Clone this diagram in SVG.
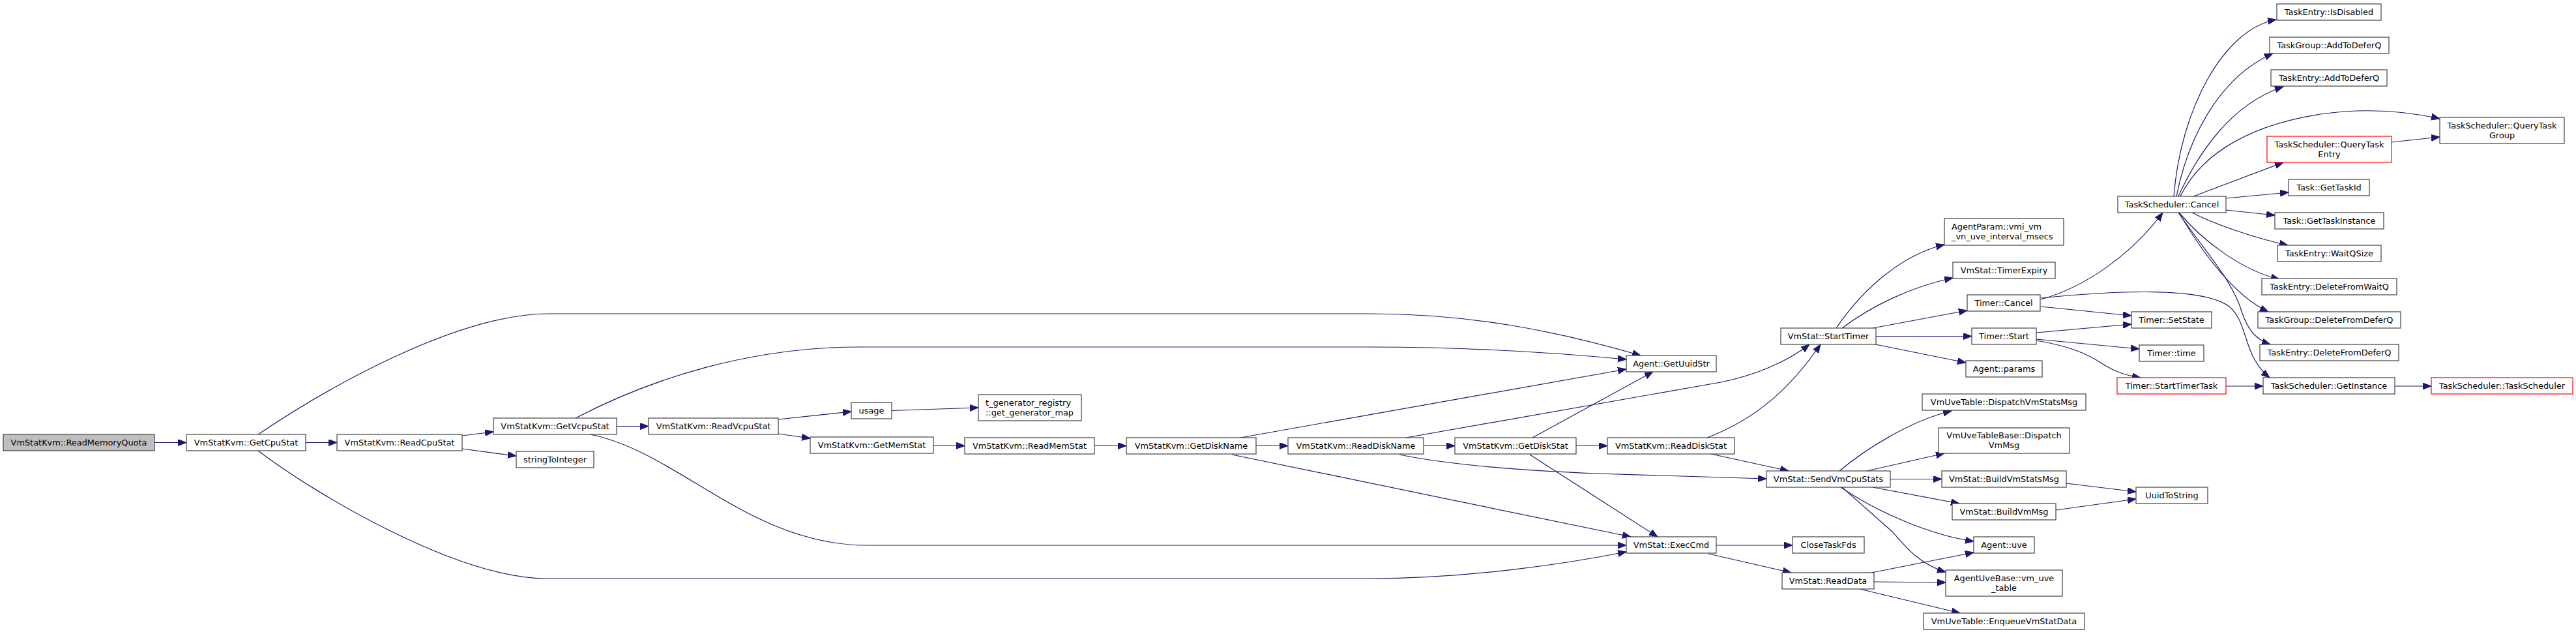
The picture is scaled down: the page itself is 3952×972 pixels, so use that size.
<svg xmlns="http://www.w3.org/2000/svg" width="3952" height="972" viewBox="0 0 3952 972">
<style>
.node rect{fill:#ffffff;stroke:#404040;stroke-width:1.2}
.start rect{fill:#bfbfbf}
.red rect{stroke:#ff0000}
text{font-family:"DejaVu Sans","Liberation Sans",sans-serif;font-size:12.9px;fill:#000000;text-anchor:middle}
text.l{text-anchor:start}
.edges path{fill:none;stroke:#191970;stroke-width:1.2;marker-end:url(#arr)}
</style>
<defs>
<marker id="arr" markerUnits="userSpaceOnUse" markerWidth="14" markerHeight="12" refX="13" refY="5" orient="auto">
<path d="M0,0 L13,5 L0,10 z" fill="#191970" stroke="#191970" stroke-width="1"/>
</marker>
</defs>
<rect x="0" y="0" width="3952" height="972" fill="#ffffff"/>
<g class="edges" id="edges">
<path d="M237,678.5 L286,678.5"/>
<path d="M469,678.5 L517,678.5"/>
<path d="M396,666 C500,596 700,481 842,481 L2100,481 C2250,481 2380,505 2517,545"/>
<path d="M396,691 C480,755 700,887 839,887 L2100,887 C2250,887 2400,865 2495,846"/>
<path d="M709,668 L757,662"/>
<path d="M709,688 L792,699"/>
<path d="M946,653.5 L995,653.5"/>
<path d="M883,641 C1000,580 1150,532 1320,532 L2100,532 C2250,532 2380,540 2495,551"/>
<path d="M905,666 C1040,692 1150,836 1330,836 L2495,836"/>
<path d="M1194,643 L1306,631"/>
<path d="M1194,665 L1243,672"/>
<path d="M1368,629.5 L1501,625"/>
<path d="M1432,682.5 L1480,683.5"/>
<path d="M1679,683.5 L1728,683.5"/>
<path d="M1927,683.5 L1976,683.5"/>
<path d="M1903,671 L2495,566"/>
<path d="M1890,697 L2502,823"/>
<path d="M2184,683.5 L2232,683.5"/>
<path d="M2157,671 L2640,586 C2690,576 2740,556 2776,528"/>
<path d="M2147,697 C2230,714 2350,722 2450,726 L2710,734"/>
<path d="M2418,683.5 L2466,683.5"/>
<path d="M2351,671 L2536,570"/>
<path d="M2347,697 L2543,823"/>
<path d="M2619,671 C2700,640 2750,590 2793,528"/>
<path d="M2625,696 L2744,722"/>
<path d="M2633,836 L2750,836"/>
<path d="M2621,849 L2748,878"/>
<path d="M2817,503 C2860,440 2920,390 2983,375"/>
<path d="M2826,503 C2870,470 2930,440 2996,426"/>
<path d="M2873,503 L3018,476"/>
<path d="M2878,515.5 L3025,515.5"/>
<path d="M2877,528 L3016,556"/>
<path d="M2822,722 C2860,690 2930,645 2994,630"/>
<path d="M2864,722 L2983,695"/>
<path d="M2900,734.5 L2979,734.5"/>
<path d="M2873,747 L3006,772"/>
<path d="M2824,747 C2880,785 2960,820 3028,830"/>
<path d="M2826,747 L2904,816 C2925,840 2945,865 2985,877"/>
<path d="M2871,878 L3028,847"/>
<path d="M2875,892 L2985,893"/>
<path d="M2853,903 L3007,940"/>
<path d="M3170,741 L3277,754"/>
<path d="M3154,782 L3277,765"/>
<path d="M3131,459 C3200,440 3270,390 3318,326"/>
<path d="M3131,457 C3250,445 3380,440 3420,470 C3450,495 3440,545 3482,579"/>
<path d="M3131,470 L3270,484"/>
<path d="M3124,510 L3270,497"/>
<path d="M3124,520 L3282,535"/>
<path d="M3124,522 C3170,530 3200,540 3229,560 C3245,570 3260,575 3284,579"/>
<path d="M3415,592 L3472,592"/>
<path d="M3674,592 L3730,592"/>
<path d="M3669,218 L3743,210"/>
<path d="M3335,301 C3345,170 3410,45 3492,30"/>
<path d="M3339,301 C3355,220 3400,120 3487,82"/>
<path d="M3342,301 C3370,240 3420,160 3503,133"/>
<path d="M3345,301 C3370,250 3430,195 3560,175 C3630,165 3690,170 3743,182"/>
<path d="M3365,301 L3503,249"/>
<path d="M3415,304 L3511,295"/>
<path d="M3415,322 L3490,330"/>
<path d="M3363,326 C3400,345 3460,365 3510,376"/>
<path d="M3343,326 C3380,370 3440,415 3497,428"/>
<path d="M3343,326 C3380,390 3430,455 3480,478"/>
<path d="M3342,326 C3390,395 3425,430 3440,480 C3450,510 3465,522 3483,528"/>
</g>
<g id="n_readmemoryquota" class="node start"><rect x="5" y="666" width="232" height="25"/><text x="121" y="683">VmStatKvm::ReadMemoryQuota</text></g>
<g id="n_getcpustat" class="node"><rect x="286" y="666" width="183" height="25"/><text x="377.5" y="683">VmStatKvm::GetCpuStat</text></g>
<g id="n_readcpustat" class="node"><rect x="517" y="666" width="192" height="25"/><text x="613" y="683">VmStatKvm::ReadCpuStat</text></g>
<g id="n_getvcpustat" class="node"><rect x="757" y="641" width="189" height="25"/><text x="851.5" y="658">VmStatKvm::GetVcpuStat</text></g>
<g id="n_stringtointeger" class="node"><rect x="792" y="692" width="119" height="25"/><text x="851.5" y="709">stringToInteger</text></g>
<g id="n_readvcpustat" class="node"><rect x="995" y="641" width="199" height="25"/><text x="1094.5" y="658">VmStatKvm::ReadVcpuStat</text></g>
<g id="n_usage" class="node"><rect x="1306" y="617" width="62" height="25"/><text x="1337" y="634">usage</text></g>
<g id="n_tgenerator" class="node"><rect x="1501" y="605" width="158" height="40"/><text class="l" x="1512" y="621.5">t_generator_registry</text><text class="l" x="1512" y="636.5">::get_generator_map</text></g>
<g id="n_getmemstat" class="node"><rect x="1243" y="670" width="189" height="25"/><text x="1337.5" y="687">VmStatKvm::GetMemStat</text></g>
<g id="n_readmemstat" class="node"><rect x="1480" y="671" width="199" height="25"/><text x="1579.5" y="688">VmStatKvm::ReadMemStat</text></g>
<g id="n_getdiskname" class="node"><rect x="1728" y="671" width="199" height="25"/><text x="1827.5" y="688">VmStatKvm::GetDiskName</text></g>
<g id="n_readdiskname" class="node"><rect x="1976" y="671" width="208" height="25"/><text x="2080" y="688">VmStatKvm::ReadDiskName</text></g>
<g id="n_getdiskstat" class="node"><rect x="2232" y="671" width="186" height="25"/><text x="2325" y="688">VmStatKvm::GetDiskStat</text></g>
<g id="n_readdiskstat" class="node"><rect x="2466" y="671" width="195" height="25"/><text x="2563.5" y="688">VmStatKvm::ReadDiskStat</text></g>
<g id="n_getuuidstr" class="node"><rect x="2495" y="545" width="138" height="25"/><text x="2564" y="562">Agent::GetUuidStr</text></g>
<g id="n_execcmd" class="node"><rect x="2495" y="823" width="138" height="25"/><text x="2564" y="840">VmStat::ExecCmd</text></g>
<g id="n_starttimer" class="node"><rect x="2732" y="503" width="146" height="25"/><text x="2805" y="520">VmStat::StartTimer</text></g>
<g id="n_sendvmcpustats" class="node"><rect x="2710" y="722" width="190" height="25"/><text x="2805" y="739">VmStat::SendVmCpuStats</text></g>
<g id="n_closetaskfds" class="node"><rect x="2750" y="823" width="110" height="25"/><text x="2805" y="840">CloseTaskFds</text></g>
<g id="n_readdata" class="node"><rect x="2734" y="878" width="141" height="25"/><text x="2804.5" y="895">VmStat::ReadData</text></g>
<g id="n_agentparam" class="node"><rect x="2983" y="335" width="183" height="41"/><text class="l" x="2994" y="352">AgentParam::vmi_vm</text><text class="l" x="2994" y="367">_vn_uve_interval_msecs</text></g>
<g id="n_timerexpiry" class="node"><rect x="2996" y="402" width="157" height="25"/><text x="3074.5" y="419">VmStat::TimerExpiry</text></g>
<g id="n_timercancel" class="node"><rect x="3018" y="452" width="112" height="25"/><text x="3074" y="469">Timer::Cancel</text></g>
<g id="n_timerstart" class="node"><rect x="3025" y="503" width="99" height="25"/><text x="3074.5" y="520">Timer::Start</text></g>
<g id="n_agentparams" class="node"><rect x="3016" y="553" width="117" height="25"/><text x="3074.5" y="570">Agent::params</text></g>
<g id="n_dispatchvmstatsmsg" class="node"><rect x="2949" y="604" width="251" height="25"/><text x="3074.5" y="621">VmUveTable::DispatchVmStatsMsg</text></g>
<g id="n_dispatchvmmsg" class="node"><rect x="2974" y="656" width="201" height="39"/><text x="3074.5" y="672">VmUveTableBase::Dispatch</text><text x="3074.5" y="687">VmMsg</text></g>
<g id="n_buildvmstatsmsg" class="node"><rect x="2979" y="722" width="191" height="25"/><text x="3074.5" y="739">VmStat::BuildVmStatsMsg</text></g>
<g id="n_buildvmmsg" class="node"><rect x="2995" y="772" width="159" height="25"/><text x="3074.5" y="789">VmStat::BuildVmMsg</text></g>
<g id="n_agentuve" class="node"><rect x="3028" y="823" width="93" height="25"/><text x="3074.5" y="840">Agent::uve</text></g>
<g id="n_vmuvetable" class="node"><rect x="2985" y="874" width="179" height="40"/><text x="3074.5" y="890.5">AgentUveBase::vm_uve</text><text x="3074.5" y="905.5">_table</text></g>
<g id="n_enqueuevmstatdata" class="node"><rect x="2951" y="940" width="247" height="25"/><text x="3074.5" y="957">VmUveTable::EnqueueVmStatData</text></g>
<g id="n_uuidtostring" class="node"><rect x="3277" y="747" width="110" height="25"/><text x="3332" y="764">UuidToString</text></g>
<g id="n_setstate" class="node"><rect x="3270" y="478" width="123" height="25"/><text x="3331.5" y="495">Timer::SetState</text></g>
<g id="n_timertime" class="node"><rect x="3282" y="529" width="99" height="25"/><text x="3331.5" y="546">Timer::time</text></g>
<g id="n_starttimertask" class="node red"><rect x="3248" y="579" width="167" height="25"/><text x="3331.5" y="596">Timer::StartTimerTask</text></g>
<g id="n_tscancel" class="node"><rect x="3249" y="301" width="166" height="25"/><text x="3332" y="318">TaskScheduler::Cancel</text></g>
<g id="n_isdisabled" class="node"><rect x="3493" y="6" width="160" height="25"/><text x="3573" y="23">TaskEntry::IsDisabled</text></g>
<g id="n_tgaddtodeferq" class="node"><rect x="3482" y="57" width="183" height="25"/><text x="3573.5" y="74">TaskGroup::AddToDeferQ</text></g>
<g id="n_teaddtodeferq" class="node"><rect x="3484" y="107" width="178" height="25"/><text x="3573" y="124">TaskEntry::AddToDeferQ</text></g>
<g id="n_querytaskentry" class="node red"><rect x="3478" y="209" width="191" height="40"/><text x="3573.5" y="225.5">TaskScheduler::QueryTask</text><text x="3573.5" y="240.5">Entry</text></g>
<g id="n_gettaskid" class="node"><rect x="3511" y="275" width="124" height="25"/><text x="3573" y="292">Task::GetTaskId</text></g>
<g id="n_gettaskinstance" class="node"><rect x="3490" y="326" width="167" height="25"/><text x="3573.5" y="343">Task::GetTaskInstance</text></g>
<g id="n_waitqsize" class="node"><rect x="3494" y="376" width="159" height="25"/><text x="3573.5" y="393">TaskEntry::WaitQSize</text></g>
<g id="n_deletefromwaitq" class="node"><rect x="3470" y="427" width="207" height="25"/><text x="3573.5" y="444">TaskEntry::DeleteFromWaitQ</text></g>
<g id="n_tgdeletefromdeferq" class="node"><rect x="3464" y="478" width="219" height="25"/><text x="3573.5" y="495">TaskGroup::DeleteFromDeferQ</text></g>
<g id="n_tedeletefromdeferq" class="node"><rect x="3467" y="528" width="213" height="25"/><text x="3573.5" y="545">TaskEntry::DeleteFromDeferQ</text></g>
<g id="n_getinstance" class="node"><rect x="3472" y="579" width="202" height="25"/><text x="3573" y="596">TaskScheduler::GetInstance</text></g>
<g id="n_querytaskgroup" class="node"><rect x="3743" y="180" width="191" height="40"/><text x="3838.5" y="196.5">TaskScheduler::QueryTask</text><text x="3838.5" y="211.5">Group</text></g>
<g id="n_taskscheduler" class="node red"><rect x="3730" y="579" width="217" height="25"/><text x="3838.5" y="596">TaskScheduler::TaskScheduler</text></g>
</svg>
